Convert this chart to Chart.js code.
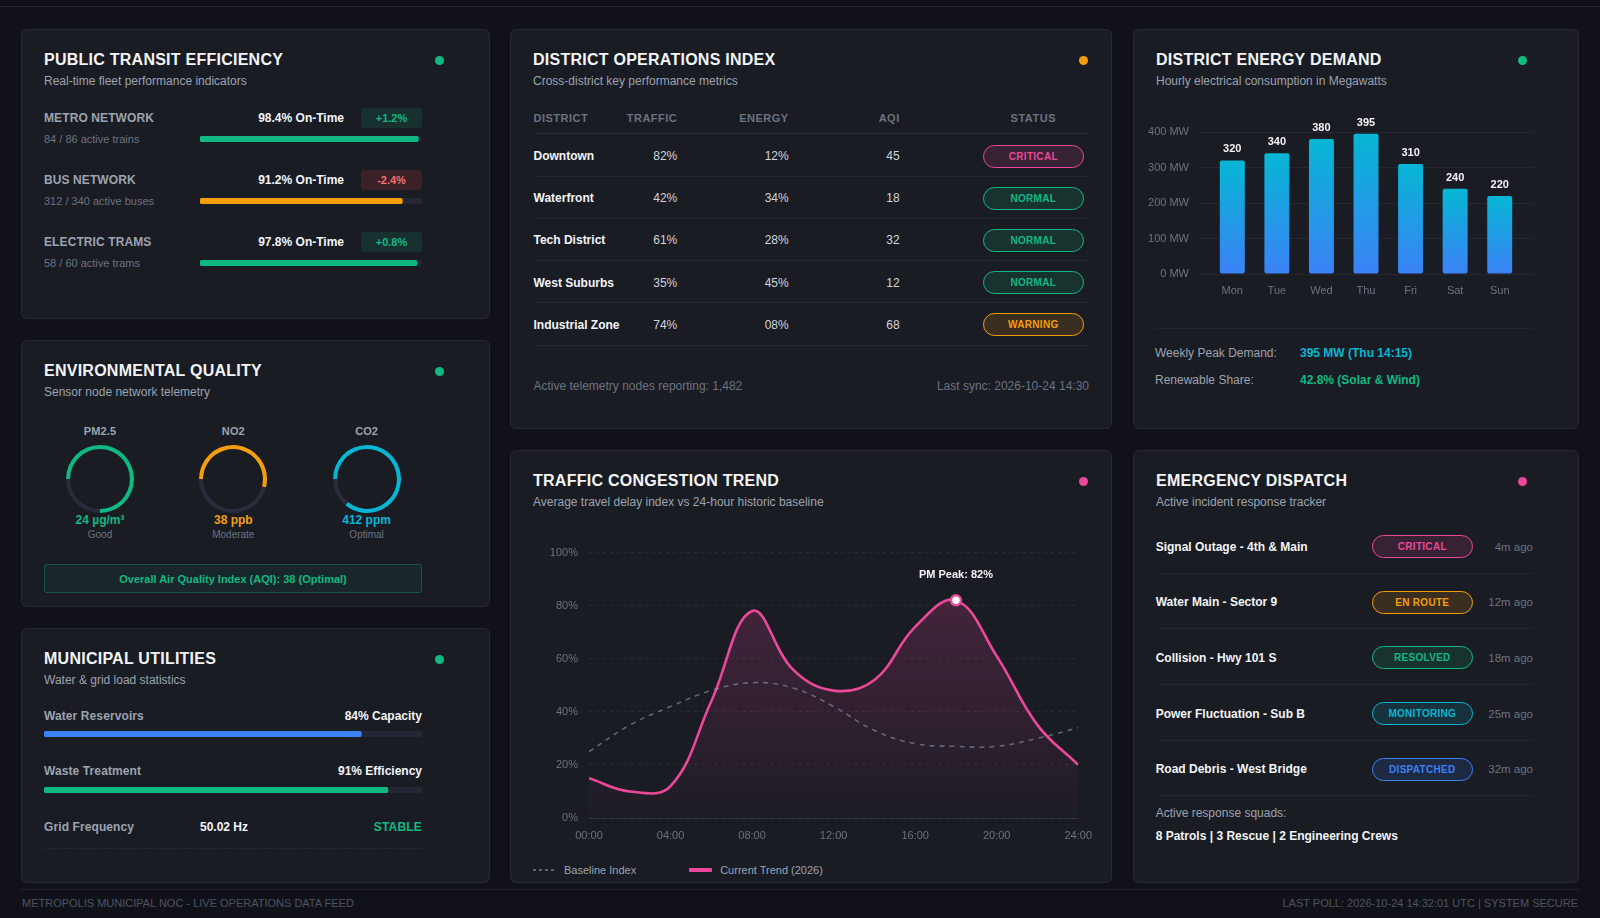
<!DOCTYPE html>
<html>
<head>
<meta charset="utf-8">
<title>Metropolis Municipal NOC</title>
<script src="https://cdn.jsdelivr.net/npm/chart.js@4.4.1/dist/chart.umd.min.js"></script>
<style>
  html, body { margin: 0; padding: 0; }
  body { width: 1600px; height: 918px; background: #111219; position: relative; overflow: hidden;
         font-family: "Liberation Sans", Arial, Helvetica, sans-serif; color: #e5e7eb; }
  .abs { position: absolute; white-space: nowrap; }
  .card { background: #1a1c24; border: 1px solid #262833; border-radius: 6px; box-sizing: border-box; }
  .title { font-size: 16px; font-weight: bold; letter-spacing: 0.25px; color: #f3f4f6; }
  .sub { font-size: 12px; color: #9ca3af; }
  .dot { border-radius: 50%; }
  .lbl { font-size: 12px; font-weight: bold; color: #9ca3af; letter-spacing: 0.1px; }
  .muted { font-size: 11px; color: #6b7280; }
  .strong { font-size: 12px; font-weight: bold; color: #f3f4f6; }
  .val { font-size: 12px; color: #d1d5db; }
  .pill { box-sizing: border-box; border: 1.5px solid; border-radius: 12px; font-size: 10px; font-weight: bold;
          letter-spacing: 0.3px; display: flex; align-items: center; justify-content: center; }
  .line { background: #24262f; }
</style>
</head>
<body>
<script>
// ---- Data ----

// Public transit
const transitLines = ['METRO NETWORK', 'BUS NETWORK', 'ELECTRIC TRAMS'];
const transitFleet = ['84 / 86 active trains', '312 / 340 active buses', '58 / 60 active trams'];
const transitOnTime = [98.4, 91.2, 97.8];
const transitChange = ['+1.2%', '-2.4%', '+0.8%'];

// Environmental sensors
const sensorNames = ['PM2.5', 'NO2', 'CO2'];
const sensorReadings = ['24 µg/m³', '38 ppb', '412 ppm'];
const sensorRatings = ['Good', 'Moderate', 'Optimal'];
const sensorGaugeFill = [75, 54, 86];

// Utilities
const utilityNames = ['Water Reservoirs', 'Waste Treatment'];
const utilityLevels = [84, 91];
const utilityUnits = ['Capacity', 'Efficiency'];

// District operations table
const districtNames = ['Downtown', 'Waterfront', 'Tech District', 'West Suburbs', 'Industrial Zone'];
const districtTraffic = [82, 42, 61, 35, 74];
const districtEnergy = [12, 34, 28, 45, 8];
const districtAqi = [45, 18, 32, 12, 68];
const districtStatus = ['CRITICAL', 'NORMAL', 'NORMAL', 'NORMAL', 'WARNING'];

// Energy demand (MW)
const weekDays = ['Mon', 'Tue', 'Wed', 'Thu', 'Fri', 'Sat', 'Sun'];
const energyDemand = [320, 340, 380, 395, 310, 240, 220];
const energyAxisMax = 400;

// Traffic congestion (% delay index, every 2 hours)
const trafficHours = [0, 2, 4, 6, 8, 10, 12, 14, 16, 18, 20, 22, 24];
const currentTrend = [15, 10, 12, 44, 78, 56, 48, 52, 72, 82, 61, 35, 20];
const baselineIndex = [25, 35, 42, 48, 51, 49, 42, 33, 28, 27, 27, 30, 34];

// Emergency dispatch
const incidents = ['Signal Outage - 4th & Main', 'Water Main - Sector 9', 'Collision - Hwy 101 S',
                   'Power Fluctuation - Sub B', 'Road Debris - West Bridge'];
const incidentStatus = ['CRITICAL', 'EN ROUTE', 'RESOLVED', 'MONITORING', 'DISPATCHED'];
const incidentAge = ['4m ago', '12m ago', '18m ago', '25m ago', '32m ago'];


// ---- Palette ----
const GREEN = '#10b981', AMBER = '#f59e0b', PINK = '#ec4899', CYAN = '#06b6d4', BLUE = '#3b82f6';
const TRACK = '#242735';
const statusColors = { 'CRITICAL': PINK, 'NORMAL': GREEN, 'WARNING': AMBER, 'EN ROUTE': AMBER,
                       'RESOLVED': GREEN, 'MONITORING': CYAN, 'DISPATCHED': BLUE };

Chart.defaults.font.family = '"Liberation Sans", Arial, Helvetica, sans-serif';
Chart.defaults.color = '#6b7280';
Chart.defaults.animation = false;

const body = document.body;

// Place a text element, y is the vertical centre
function put(html, x, y, cls, align, css) {
  const el = document.createElement('div');
  el.className = 'abs ' + (cls || '');
  el.innerHTML = html;
  if (css) el.style.cssText += css;
  el.style.left = x + 'px';
  el.style.top = y + 'px';
  const tx = align === 'right' ? '-100%' : (align === 'center' ? '-50%' : '0');
  el.style.transform = 'translate(' + tx + ', -50%)';
  body.appendChild(el);
  return el;
}

// Place a box
function box(x, y, w, h, cls, css) {
  const el = document.createElement('div');
  el.className = 'abs ' + (cls || '');
  if (css) el.style.cssText += css;
  el.style.left = x + 'px';
  el.style.top = y + 'px';
  el.style.width = w + 'px';
  el.style.height = h + 'px';
  body.appendChild(el);
  return el;
}

function hexA(hex, a) {
  const n = parseInt(hex.slice(1), 16);
  return 'rgba(' + (n >> 16) + ',' + ((n >> 8) & 255) + ',' + (n & 255) + ',' + a + ')';
}

function pill(text, cx, cy) {
  const col = statusColors[text];
  const p = box(cx - 50.5, cy - 11.5, 101, 23, 'pill',
    'color:' + col + ';border-color:' + col + ';background:' + hexA(col, 0.14));
  p.textContent = text;
}

function newCanvas(x, y, w, h) {
  const c = document.createElement('canvas');
  c.width = w;
  c.height = h;
  c.className = 'abs';
  c.style.left = x + 'px';
  c.style.top = y + 'px';
  c.style.width = w + 'px';
  c.style.height = h + 'px';
  body.appendChild(c);
  return c;
}

// Horizontal progress bar: value drawn over a 100% track
function progressBar(x, cy, w, h, value, color) {
  return new Chart(newCanvas(x, cy - h / 2, w, h), {
    type: 'bar',
    data: {
      labels: [''],
      datasets: [
        { data: [value], backgroundColor: color, order: 1 },
        { data: [100], backgroundColor: TRACK, order: 2 }
      ]
    },
    options: {
      indexAxis: 'y',
      responsive: false,
      events: [],
      layout: { padding: 0 },
      datasets: { bar: { grouped: false, barPercentage: 1, categoryPercentage: 1, borderRadius: h / 2, borderSkipped: false } },
      scales: { x: { display: false, min: 0, max: 100 }, y: { display: false } },
      plugins: { legend: { display: false }, tooltip: { enabled: false } }
    }
  });
}

// Ring gauge starting at 9 o'clock
function gauge(cx, cy, size, value, color) {
  return new Chart(newCanvas(cx - size / 2, cy - size / 2, size, size), {
    type: 'doughnut',
    data: { datasets: [{ data: [value, 100 - value], backgroundColor: [color, '#2a2c3b'], borderWidth: 0 }] },
    options: {
      responsive: false,
      events: [],
      rotation: -90,
      cutout: '88%',
      layout: { padding: 0 },
      plugins: { legend: { display: false }, tooltip: { enabled: false } }
    }
  });
}


// ---- Frame ----
box(0, 6, 1600, 1, 'line', 'background:#23252f');

const cardLayout = [
  [21, 29, 469, 290, 'PUBLIC TRANSIT EFFICIENCY', 'Real-time fleet performance indicators', GREEN, 439],
  [21, 340, 469, 267, 'ENVIRONMENTAL QUALITY', 'Sensor node network telemetry', GREEN, 439],
  [21, 628, 469, 255, 'MUNICIPAL UTILITIES', 'Water &amp; grid load statistics', GREEN, 439],
  [510, 29, 602, 400, 'DISTRICT OPERATIONS INDEX', 'Cross-district key performance metrics', AMBER, 1083],
  [1133, 29, 446, 400, 'DISTRICT ENERGY DEMAND', 'Hourly electrical consumption in Megawatts', GREEN, 1522],
  [510, 450, 602, 433, 'TRAFFIC CONGESTION TREND', 'Average travel delay index vs 24-hour historic baseline', PINK, 1083],
  [1133, 450, 446, 433, 'EMERGENCY DISPATCH', 'Active incident response tracker', PINK, 1522]
];
cardLayout.forEach(c => {
  box(c[0], c[1], c[2], c[3], 'card');
  const ty = c[1] + 30.8;
  put(c[4], c[0] + 23, ty, 'title');
  put(c[5], c[0] + 23, ty + 21.2, 'sub');
  box(c[7] - 4.5, ty - 4, 9, 9, 'dot', 'background:' + c[6]);
});


// ---- Public transit ----
transitLines.forEach((name, i) => {
  const y = 118 + 62.2 * i;
  const up = transitChange[i][0] === '+';
  put(name, 44, y, 'lbl');
  put(transitFleet[i], 44, y + 20.5, 'muted');
  put(transitOnTime[i].toFixed(1) + '% On-Time', 344, y, 'strong', 'right');
  const b = box(361, y - 10.3, 61, 20, '',
    'border-radius:3px;display:flex;align-items:center;justify-content:center;font-size:11px;font-weight:bold;' +
    'background:' + (up ? 'rgba(16,185,129,0.13)' : 'rgba(239,68,68,0.15)') + ';color:' + (up ? GREEN : '#f87171'));
  b.textContent = transitChange[i];
  progressBar(200, y + 21, 222, 6, transitOnTime[i], transitOnTime[i] < 95 ? AMBER : GREEN);
});


// ---- Environmental quality ----
const sensorColors = [GREEN, AMBER, CYAN];
sensorNames.forEach((name, i) => {
  const cx = 100 + 133.3 * i;
  put(name, cx, 431, 'lbl', 'center', 'font-size:11px');
  gauge(cx, 479, 68, sensorGaugeFill[i], sensorColors[i]);
  put(sensorReadings[i], cx, 520.3, '', 'center', 'font-size:12px;font-weight:bold;color:' + sensorColors[i]);
  put(sensorRatings[i], cx, 534.3, 'muted', 'center', 'font-size:10px');
});
box(44, 564, 378, 29, '',
  'box-sizing:border-box;border:1px solid rgba(16,185,129,0.3);background:rgba(16,185,129,0.07);border-radius:3px;' +
  'color:#10b981;font-size:11px;font-weight:bold;display:flex;align-items:center;justify-content:center'
).textContent = 'Overall Air Quality Index (AQI): 38 (Optimal)';


// ---- Municipal utilities ----
const utilityColors = [BLUE, GREEN];
utilityNames.forEach((name, i) => {
  const y = 715.7 + 55.3 * i;
  put(name, 44, y, 'lbl');
  put(utilityLevels[i] + '% ' + utilityUnits[i], 422, y, 'strong', 'right');
  progressBar(44, y + 18.5, 378, 6, utilityLevels[i], utilityColors[i]);
});
put('Grid Frequency', 44, 827, 'lbl');
put('50.02 Hz', 200, 827, 'strong');
put('STABLE', 422, 827, '', 'right', 'font-size:12px;font-weight:bold;color:' + GREEN + ';letter-spacing:0.2px');
box(44, 848, 378, 0, '', 'border-top:1px dashed #262833');


// ---- District operations table ----
const hdrCss = 'font-size:11px;font-weight:bold;color:#6b7280;letter-spacing:0.5px';
put('DISTRICT', 533.5, 118.3, '', '', hdrCss);
put('TRAFFIC', 677.3, 118.3, '', 'right', hdrCss);
put('ENERGY', 788.7, 118.3, '', 'right', hdrCss);
put('AQI', 899.7, 118.3, '', 'right', hdrCss);
put('STATUS', 1033.3, 118.3, '', 'center', hdrCss);
box(533.5, 133, 555.5, 1, 'line', 'background:#2a2d39');
districtNames.forEach((name, i) => {
  const y = 156 + 42.2 * i;
  put(name, 533.5, y, 'strong');
  put(districtTraffic[i] + '%', 677.3, y, 'val', 'right');
  put(String(districtEnergy[i]).padStart(2, '0') + '%', 788.7, y, 'val', 'right');
  put(String(districtAqi[i]), 899.7, y, 'val', 'right');
  pill(districtStatus[i], 1033.3, y);
  box(533.5, y + 19.7, 555.5, 1, 'line');
});
put('Active telemetry nodes reporting: 1,482', 533.5, 386, '', '', 'font-size:12px;color:#6b7280');
put('Last sync: 2026-10-24 14:30', 1089, 386, '', 'right', 'font-size:12px;color:#6b7280');


// ---- District energy demand ----
const barValueLabels = {
  id: 'barValueLabels',
  afterDatasetsDraw(chart) {
    const ctx = chart.ctx;
    const values = chart.data.datasets[0].data;
    ctx.save();
    ctx.fillStyle = '#f3f4f6';
    ctx.font = 'bold 11px "Liberation Sans", Arial, sans-serif';
    ctx.textAlign = 'center';
    ctx.textBaseline = 'middle';
    chart.getDatasetMeta(0).data.forEach((bar, i) => ctx.fillText(values[i], bar.x, bar.y - 11));
    ctx.restore();
  }
};

new Chart(newCanvas(1140, 100, 394, 200), {
  type: 'bar',
  data: {
    labels: weekDays,
    datasets: [{
      data: energyDemand,
      backgroundColor: ctx => {
        const chart = ctx.chart;
        if (!chart.chartArea || ctx.dataIndex === undefined) return '#2b8ef0';
        const y = chart.scales.y;
        const g = chart.ctx.createLinearGradient(0, y.getPixelForValue(ctx.raw), 0, y.getPixelForValue(0));
        g.addColorStop(0, CYAN);
        g.addColorStop(1, BLUE);
        return g;
      },
      borderRadius: 2,
      borderSkipped: false,
      barPercentage: 0.56,
      categoryPercentage: 1
    }]
  },
  options: {
    responsive: false,
    events: [],
    layout: { padding: { top: 32, left: 0, right: 0, bottom: 0 } },
    plugins: { legend: { display: false }, tooltip: { enabled: false } },
    scales: {
      x: {
        afterFit: s => { s.height = 26; },
        grid: { display: false, drawTicks: false },
        border: { display: false },
        ticks: { padding: 10, font: { size: 11 } }
      },
      y: {
        min: 0, max: energyAxisMax,
        afterFit: s => { s.width = 70; },
        grid: { color: 'rgba(255,255,255,0.05)', tickLength: 10 },
        border: { display: false },
        ticks: { stepSize: 100, padding: 11, font: { size: 11 }, callback: v => v + ' MW' }
      },
      yEdge: {
        position: 'right',
        min: 0, max: energyAxisMax,
        afterFit: s => { s.width = 12; },
        grid: { color: 'rgba(255,255,255,0.05)', tickLength: 12, drawOnChartArea: false },
        border: { display: false },
        ticks: { stepSize: 100, display: false }
      }
    }
  },
  plugins: [barValueLabels]
});

const peakMw = Math.max(...energyDemand);
const peakDay = weekDays[energyDemand.indexOf(peakMw)];
box(1155, 328, 378, 1, 'line');
put('Weekly Peak Demand:', 1155, 353.3, 'sub');
put(peakMw + ' MW (' + peakDay + ' 14:15)', 1300, 353.3, '', '', 'font-size:12px;font-weight:bold;color:' + CYAN);
put('Renewable Share:', 1155, 380, 'sub');
put('42.8% (Solar &amp; Wind)', 1300, 380, '', '', 'font-size:12px;font-weight:bold;color:' + GREEN);


// ---- Traffic congestion trend ----
const peakIdx = currentTrend.indexOf(Math.max(...currentTrend));

const peakLabel = {
  id: 'peakLabel',
  afterDatasetsDraw(chart) {
    const pt = chart.getDatasetMeta(1).data[peakIdx];
    const hour = trafficHours[peakIdx];
    const ctx = chart.ctx;
    ctx.save();
    ctx.fillStyle = '#f3f4f6';
    ctx.font = 'bold 11px "Liberation Sans", Arial, sans-serif';
    ctx.textAlign = 'center';
    ctx.textBaseline = 'middle';
    ctx.fillText((hour >= 12 ? 'PM' : 'AM') + ' Peak: ' + currentTrend[peakIdx] + '%', pt.x, pt.y - 25.5);
    ctx.restore();
  }
};

const trafficChart = new Chart(newCanvas(523, 534.5, 580, 320.5), {
  type: 'line',
  data: {
    datasets: [
      {
        label: 'Baseline Index',
        data: baselineIndex.map((v, i) => ({ x: trafficHours[i], y: v })),
        borderColor: 'rgba(148,163,184,0.55)',
        borderWidth: 1.6,
        borderDash: [5, 5],
        pointRadius: 0,
        tension: 0.4,
        fill: false
      },
      {
        label: 'Current Trend (2026)',
        data: currentTrend.map((v, i) => ({ x: trafficHours[i], y: v })),
        borderColor: PINK,
        borderWidth: 2.6,
        tension: 0.4,
        fill: 'origin',
        backgroundColor: ctx => {
          const a = ctx.chart.chartArea;
          if (!a) return 'rgba(236,72,153,0.12)';
          const g = ctx.chart.ctx.createLinearGradient(0, a.top, 0, a.bottom);
          g.addColorStop(0, 'rgba(236,72,153,0.24)');
          g.addColorStop(1, 'rgba(236,72,153,0.02)');
          return g;
        },
        pointRadius: ctx => ctx.dataIndex === peakIdx ? 5 : 0,
        pointBackgroundColor: '#ffffff',
        pointBorderColor: PINK,
        pointBorderWidth: 2.5
      }
    ]
  },
  options: {
    responsive: false,
    events: [],
    layout: { padding: { top: 6.5, right: 18, left: 0, bottom: 0 } },
    plugins: { legend: { display: false }, tooltip: { enabled: false } },
    scales: {
      x: {
        type: 'linear', min: 0, max: 24,
        afterFit: s => { s.height = 37; },
        grid: { display: false, drawTicks: false },
        border: { display: true, color: 'rgba(255,255,255,0.08)' },
        ticks: { stepSize: 4, padding: 11, font: { size: 11 },
                 callback: v => String(v).padStart(2, '0') + ':00' }
      },
      y: {
        min: 0, max: 100,
        afterFit: s => { s.width = 66; },
        grid: { color: 'rgba(255,255,255,0.07)', drawTicks: false },
        border: { display: false, dash: [3, 4] },
        ticks: { stepSize: 20, padding: 11, font: { size: 11 }, callback: v => v + '%' }
      }
    }
  },
  plugins: [peakLabel]
});

// HTML legend built from the chart's datasets
const legend = document.createElement('div');
legend.className = 'abs';
legend.style.cssText += 'left:533px;top:869.5px;transform:translateY(-50%);display:flex;align-items:center;font-size:11px;color:#9ca3af';
trafficChart.data.datasets.forEach(ds => {
  const item = document.createElement('div');
  item.style.cssText = 'display:flex;align-items:center;margin-right:53px';
  const sw = document.createElement('div');
  if (ds.borderDash) {
    sw.style.cssText = 'width:23px;height:2px;margin-right:8px;background:repeating-linear-gradient(90deg,' +
      ds.borderColor + ' 0 3px,transparent 3px 6px)';
  } else {
    sw.style.cssText = 'width:23px;height:4px;margin-right:8px;border-radius:1px;background:' + ds.borderColor;
  }
  const tx = document.createElement('span');
  tx.textContent = ds.label;
  item.appendChild(sw);
  item.appendChild(tx);
  legend.appendChild(item);
});
body.appendChild(legend);


// ---- Emergency dispatch ----
incidents.forEach((name, i) => {
  const y = 546.7 + 55.6 * i;
  put(name, 1155.7, y, 'strong');
  pill(incidentStatus[i], 1422.3, y);
  put(incidentAge[i], 1533, y, '', 'right', 'font-size:11.5px;color:#6b7280');
  box(1155.7, y + 26, 377.3, 1, 'line');
});
put('Active response squads:', 1155.7, 813.3, 'sub');
put('8 Patrols | 3 Rescue | 2 Engineering Crews', 1155.7, 835.5, 'strong');


// ---- Footer ----
box(21, 889, 1558, 1, 'line', 'background:#20222b');
put('METROPOLIS MUNICIPAL NOC - LIVE OPERATIONS DATA FEED', 22, 903, '', '', 'font-size:11px;color:#4d5262');
put('LAST POLL: 2026-10-24 14:32:01 UTC | SYSTEM SECURE', 1578, 903, '', 'right', 'font-size:11px;color:#4d5262');
</script>
</body>
</html>
